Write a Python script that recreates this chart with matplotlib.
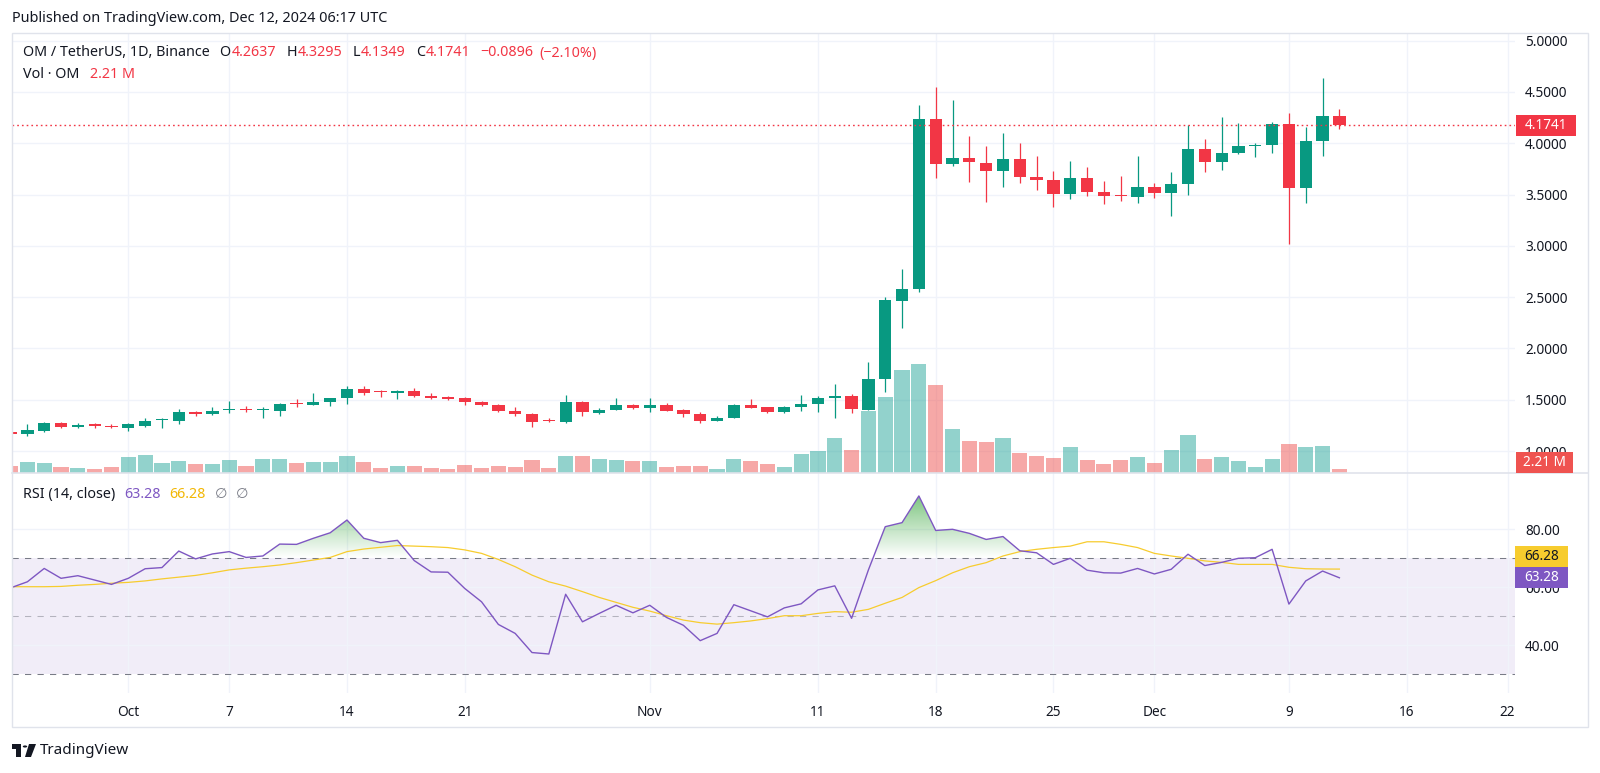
#!/usr/bin/env python3

import matplotlib

matplotlib.use("Agg")

import matplotlib.pyplot as plt
import numpy as np
import pandas as pd
from matplotlib.lines import Line2D
from matplotlib.patches import Circle, Polygon, Rectangle
from matplotlib.path import Path as MplPath
from matplotlib.ticker import FormatStrFormatter

plt.rcParams["font.family"] = ["Noto Sans", "DejaVu Sans"]

WIDTH_PX = 1600
HEIGHT_PX = 773
DPI = 100

UP_COLOR = "#089981"
DOWN_COLOR = "#f23645"
VOL_UP_COLOR = "#26a69a"
VOL_DOWN_COLOR = "#ef5350"
TEXT_COLOR = "#131722"
GRID_COLOR = "#f0f3fa"
BORDER_COLOR = "#e0e3eb"
RSI_COLOR = "#7e57c2"
RSI_MA_COLOR = "#f7cc2e"
BAND_COLOR = "#787b86"
FONT_SIZE = 9.8
LEGEND_SIZE = 10.3

# pane geometry in pixels (from top-left)
FRAME_LEFT = 12.3
FRAME_RIGHT = 1588
FRAME_TOP = 33
FRAME_BOTTOM = 727
PLOT_RIGHT = 1515
PANE_SPLIT = 473.3
RSI_BOTTOM = 693

X_LIMITS = (0.103, 89.44)
PRICE_LIMITS = (0.7836, 5.075)
RSI_LIMITS = (23.55, 99.31)
VOLUME_TOP = 243.3

dates = pd.date_range("2024-09-24", "2024-12-12", freq="D")

opens = [
    1.189, 1.163, 1.199, 1.271, 1.232, 1.261, 1.248, 1.228, 1.245, 1.302,
    1.297, 1.378, 1.358, 1.404, 1.410, 1.398, 1.391, 1.462, 1.446, 1.479,
    1.514, 1.605, 1.580, 1.566, 1.586, 1.540, 1.524, 1.514, 1.482, 1.449,
    1.394, 1.362, 1.293, 1.280, 1.482, 1.368, 1.400, 1.449, 1.417, 1.449,
    1.400, 1.358, 1.297, 1.319, 1.449, 1.426, 1.384, 1.426, 1.456, 1.521,
    1.540, 1.400, 1.700, 2.466, 2.577, 4.237, 3.798, 3.860, 3.811, 3.733,
    3.844, 3.675, 3.642, 3.506, 3.659, 3.522, 3.497, 3.480, 3.571, 3.512,
    3.600, 3.941, 3.818, 3.902, 3.975, 3.984, 4.185, 3.561, 4.022, 4.2637,
]
highs = [
    1.195, 1.261, 1.287, 1.280, 1.271, 1.271, 1.264, 1.277, 1.326, 1.326,
    1.407, 1.394, 1.427, 1.488, 1.443, 1.433, 1.466, 1.508, 1.563, 1.514,
    1.638, 1.631, 1.596, 1.596, 1.612, 1.563, 1.534, 1.530, 1.491, 1.456,
    1.433, 1.368, 1.326, 1.547, 1.488, 1.417, 1.514, 1.459, 1.514, 1.466,
    1.410, 1.378, 1.342, 1.456, 1.508, 1.433, 1.440, 1.547, 1.537, 1.651,
    1.557, 1.865, 2.505, 2.772, 4.373, 4.546, 4.422, 4.071, 3.974, 4.097,
    4.006, 3.876, 3.733, 3.828, 3.772, 3.636, 3.681, 3.876, 3.610, 3.717,
    4.178, 4.042, 4.253, 4.201, 3.999, 4.204, 4.299, 4.156, 4.640, 4.3295,
]
lows = [
    1.165, 1.147, 1.189, 1.228, 1.222, 1.222, 1.222, 1.199, 1.238, 1.228,
    1.264, 1.345, 1.352, 1.374, 1.384, 1.319, 1.342, 1.430, 1.446, 1.440,
    1.462, 1.547, 1.524, 1.505, 1.530, 1.508, 1.495, 1.449, 1.440, 1.378,
    1.342, 1.238, 1.281, 1.277, 1.345, 1.362, 1.400, 1.407, 1.384, 1.394,
    1.329, 1.270, 1.293, 1.319, 1.417, 1.374, 1.374, 1.394, 1.384, 1.326,
    1.375, 1.400, 1.573, 2.203, 2.554, 3.665, 3.779, 3.626, 3.431, 3.577,
    3.610, 3.545, 3.382, 3.460, 3.490, 3.405, 3.441, 3.415, 3.464, 3.291,
    3.496, 3.724, 3.740, 3.896, 3.870, 3.909, 3.019, 3.421, 3.876, 4.1349,
]
closes = [
    1.167, 1.206, 1.271, 1.232, 1.254, 1.245, 1.232, 1.261, 1.293, 1.310,
    1.378, 1.358, 1.391, 1.410, 1.404, 1.402, 1.456, 1.455, 1.479, 1.514,
    1.605, 1.570, 1.577, 1.589, 1.540, 1.514, 1.508, 1.482, 1.449, 1.391,
    1.358, 1.287, 1.290, 1.482, 1.378, 1.400, 1.449, 1.417, 1.449, 1.394,
    1.361, 1.293, 1.319, 1.449, 1.423, 1.384, 1.426, 1.456, 1.521, 1.540,
    1.407, 1.700, 2.473, 2.580, 4.237, 3.798, 3.860, 3.815, 3.733, 3.844,
    3.668, 3.642, 3.506, 3.659, 3.522, 3.486, 3.490, 3.571, 3.512, 3.600,
    3.941, 3.821, 3.902, 3.977, 3.985, 4.185, 3.561, 4.022, 4.2637, 4.1741,
]
volumes_m = [
    3.9, 6.1, 5.7, 3.5, 2.8, 2.2, 3.5, 8.8, 9.9, 5.7,
    6.8, 5.4, 5.0, 7.2, 3.9, 7.7, 7.9, 5.7, 6.1, 6.1,
    9.8, 6.2, 3.1, 3.9, 3.9, 2.9, 2.4, 4.4, 2.8, 3.9,
    3.5, 7.6, 3.1, 9.6, 9.8, 7.9, 7.6, 7.0, 7.0, 3.5,
    3.9, 4.3, 2.6, 7.9, 6.8, 5.0, 3.5, 10.9, 12.2, 19.3,
    13.1, 34.3, 42.4, 56.9, 60.6, 48.6, 24.7, 17.7, 17.3, 19.5,
    11.2, 9.4, 8.5, 14.5, 7.2, 5.4, 7.2, 8.8, 5.7, 12.7,
    21.4, 8.1, 8.8, 6.8, 3.5, 7.9, 16.4, 14.5, 15.3, 2.21,
]
rsi = [
    59.8, 61.9, 66.5, 63.1, 64.0, 62.5, 61.0, 63.1, 66.4, 66.8,
    72.5, 69.8, 71.5, 72.3, 70.3, 70.8, 74.9, 74.8, 76.9, 78.8,
    83.2, 76.9, 75.4, 76.2, 69.2, 65.3, 65.2, 59.6, 55.0, 47.2,
    44.1, 37.5, 37.0, 57.6, 48.1, 51.0, 53.8, 51.2, 53.8, 49.6,
    46.9, 41.6, 44.1, 54.0, 51.9, 49.8, 52.9, 54.3, 59.1, 60.5,
    49.3, 66.0, 80.9, 82.3, 91.5, 79.6, 80.0, 78.6, 76.5, 77.5,
    72.6, 71.9, 67.9, 70.0, 65.9, 65.0, 64.9, 66.5, 64.6, 66.2,
    71.4, 67.5, 68.6, 70.0, 70.2, 73.1, 54.2, 62.2, 65.6, 63.28,
]
rsi_ma = [
    60.2, 60.2, 60.2, 60.3, 60.7, 61.0, 61.4, 61.7, 62.2, 62.9,
    63.5, 64.1, 65.0, 66.0, 66.6, 67.1, 67.7, 68.5, 69.4, 70.3,
    72.3, 73.2, 73.8, 74.4, 74.2, 74.0, 73.7, 72.9, 71.7, 69.6,
    67.1, 64.2, 61.9, 60.4, 58.5, 56.5, 54.8, 53.1, 51.8, 50.2,
    48.7, 47.8, 47.3, 47.8, 48.4, 49.2, 50.2, 50.2, 51.0, 51.6,
    51.4, 52.4, 54.5, 56.5, 59.9, 62.3, 65.0, 67.1, 68.5, 70.8,
    72.3, 73.1, 73.7, 74.2, 75.7, 75.7, 74.8, 73.7, 71.7, 70.8,
    70.0, 69.1, 68.6, 67.9, 67.9, 67.9, 66.9, 66.4, 66.3, 66.28,
]

tick_dates = [
    "2024-10-01", "2024-10-07", "2024-10-14", "2024-10-21", "2024-11-01",
    "2024-11-11", "2024-11-18", "2024-11-25", "2024-12-01", "2024-12-09",
    "2024-12-16", "2024-12-22",
]
tick_labels = ["Oct", "7", "14", "21", "Nov", "11", "18", "25", "Dec", "9", "16", "22"]
price_ticks = [1.0, 1.5, 2.0, 2.5, 3.0, 3.5, 4.0, 4.5, 5.0]
rsi_ticks = [40, 60, 80]


def fig_rect(left, top, right, bottom):
    return [left / WIDTH_PX, 1 - bottom / HEIGHT_PX,
            (right - left) / WIDTH_PX, (bottom - top) / HEIGHT_PX]


def fy(y_px):
    return 1 - y_px / HEIGHT_PX


def value_to_px(ax, value):
    return HEIGHT_PX - ax.transData.transform((0, value))[1]


def value_box(fig, center_px, left_px, width_px, text, face, text_color):
    box_h = 21
    fig.add_artist(Rectangle((left_px / WIDTH_PX, fy(center_px + box_h / 2)),
                             width_px / WIDTH_PX, box_h / HEIGHT_PX,
                             transform=fig.transFigure, facecolor=face,
                             edgecolor="none", zorder=20))
    fig.text((left_px + width_px / 2) / WIDTH_PX, fy(center_px), text,
             color=text_color, fontsize=FONT_SIZE, ha="center", va="center",
             zorder=21)


def draw_runs(fig, renderer, x_px, y_px, runs):
    x = x_px
    for text, color, gap in runs:
        t = fig.text(x / WIDTH_PX, fy(y_px), text, color=color,
                     fontsize=LEGEND_SIZE, ha="left", va="center")
        x += t.get_window_extent(renderer=renderer).width + gap


def style_axes(ax):
    for spine in ax.spines.values():
        spine.set_visible(False)
    ax.set_xlim(*X_LIMITS)


def right_scale(ax, ticks, fmt):
    ax.set_yticks(ticks)
    ax.yaxis.tick_right()
    ax.yaxis.set_major_formatter(FormatStrFormatter(fmt))
    ax.tick_params(axis="y", length=0, pad=7.2, labelsize=FONT_SIZE,
                   labelcolor=TEXT_COLOR)


def main():
    o = np.array(opens)
    h = np.array(highs)
    l = np.array(lows)
    c = np.array(closes)
    vol = np.array(volumes_m)
    rsi_arr = np.array(rsi)
    ma_arr = np.array(rsi_ma)
    x = np.arange(len(dates))
    up = c >= o
    tick_pos = [(pd.Timestamp(d) - dates[0]).days for d in tick_dates]

    fig = plt.figure(figsize=(WIDTH_PX / DPI, HEIGHT_PX / DPI), dpi=DPI)
    fig.patch.set_facecolor("white")

    # ---- price pane ----
    ax = fig.add_axes(fig_rect(FRAME_LEFT, FRAME_TOP, PLOT_RIGHT, PANE_SPLIT))
    ax_vol = ax.twinx()
    style_axes(ax)
    style_axes(ax_vol)
    ax.set_ylim(*PRICE_LIMITS)
    ax.set_xticks(tick_pos)
    ax.grid(True, color=GRID_COLOR, linewidth=1.0, zorder=0)
    ax.set_axisbelow(True)
    ax.tick_params(axis="x", length=0, labelbottom=False)
    right_scale(ax, price_ticks, "%.4f")

    candle_colors = np.where(up, UP_COLOR, DOWN_COLOR)
    ax.vlines(x, l, h, colors=candle_colors, linewidth=0.9, zorder=3)
    body_bottom = np.minimum(o, c)
    body_height = np.maximum(np.abs(c - o), 0.01)
    ax.bar(x, body_height, bottom=body_bottom, width=0.73,
           color=candle_colors, linewidth=0, zorder=4)
    ax.axhline(closes[-1], color=DOWN_COLOR, linewidth=1.0,
               linestyle=(0, (1.2, 2.2)), zorder=5)

    # ---- volume overlay ----
    ax_vol.set_ylim(0, VOLUME_TOP)
    ax_vol.set_yticks([])
    ax_vol.tick_params(axis="x", length=0, labelbottom=False)
    ax_vol.patch.set_visible(False)
    vol_colors = np.where(up, VOL_UP_COLOR, VOL_DOWN_COLOR)
    ax_vol.bar(x, vol, width=0.9, color=vol_colors, alpha=0.5, linewidth=0)

    # ---- RSI pane ----
    ax_rsi = fig.add_axes(fig_rect(FRAME_LEFT, PANE_SPLIT, PLOT_RIGHT, RSI_BOTTOM))
    style_axes(ax_rsi)
    ax_rsi.axhspan(30, 70, color=RSI_COLOR, alpha=0.1, linewidth=0, zorder=0.5)
    fill = ax_rsi.fill_between(x, rsi_arr, 70, where=rsi_arr > 70,
                               interpolate=True, facecolor="none",
                               edgecolor="none")
    grad = np.zeros((256, 1, 4))
    grad[..., :3] = matplotlib.colors.to_rgb("#4caf50")
    grad[:, 0, 3] = np.linspace(1.0, 0.0, 256)
    im = ax_rsi.imshow(grad, extent=(x[0], x[-1], 70, 100), aspect="auto",
                       origin="upper", zorder=1, interpolation="bilinear")
    clip = MplPath.make_compound_path(*fill.get_paths())
    im.set_clip_path(clip, transform=ax_rsi.transData)

    ax_rsi.axhline(70, color=BAND_COLOR, linewidth=0.75, linestyle=(0, (6, 6)), zorder=2)
    ax_rsi.axhline(50, color=BAND_COLOR, alpha=0.5, linewidth=0.75,
                   linestyle=(0, (6, 6)), zorder=2)
    ax_rsi.axhline(30, color=BAND_COLOR, linewidth=0.75, linestyle=(0, (6, 6)), zorder=2)
    ax_rsi.plot(x, ma_arr, color=RSI_MA_COLOR, linewidth=0.9, zorder=3)
    ax_rsi.plot(x, rsi_arr, color=RSI_COLOR, linewidth=1.0, zorder=4)

    ax_rsi.set_xlim(*X_LIMITS)
    ax_rsi.set_ylim(*RSI_LIMITS)
    ax_rsi.set_xticks(tick_pos)
    ax_rsi.set_xticklabels(tick_labels)
    ax_rsi.grid(True, color=GRID_COLOR, linewidth=1.0, zorder=0)
    ax_rsi.set_axisbelow(True)
    right_scale(ax_rsi, rsi_ticks, "%.2f")
    ax_rsi.tick_params(axis="x", length=0, pad=8.6, labelsize=FONT_SIZE,
                       labelcolor=TEXT_COLOR)

    # ---- frame and separators ----
    fig.add_artist(Rectangle((FRAME_LEFT / WIDTH_PX, fy(FRAME_BOTTOM)),
                             (FRAME_RIGHT - FRAME_LEFT) / WIDTH_PX,
                             (FRAME_BOTTOM - FRAME_TOP) / HEIGHT_PX,
                             transform=fig.transFigure, fill=False,
                             edgecolor=BORDER_COLOR, linewidth=1.0))
    fig.add_artist(Line2D([FRAME_LEFT / WIDTH_PX, FRAME_RIGHT / WIDTH_PX],
                          [fy(PANE_SPLIT), fy(PANE_SPLIT)],
                          transform=fig.transFigure, color=BORDER_COLOR,
                          linewidth=1.2))

    # ---- last value boxes on the scales ----
    value_box(fig, value_to_px(ax, closes[-1]), 1516, 60,
              f"{closes[-1]:.4f}", DOWN_COLOR, "white")
    vol_center = min(value_to_px(ax_vol, volumes_m[-1]), PANE_SPLIT - 11)
    value_box(fig, vol_center, 1516, 57, f"{volumes_m[-1]:.2f} M",
              VOL_DOWN_COLOR, "white")
    rsi_center = value_to_px(ax_rsi, rsi[-1])
    ma_center = min(value_to_px(ax_rsi, rsi_ma[-1]), rsi_center - 21)
    value_box(fig, ma_center, 1515, 53, f"{rsi_ma[-1]:.2f}", RSI_MA_COLOR, TEXT_COLOR)
    value_box(fig, rsi_center, 1515, 53, f"{rsi[-1]:.2f}", RSI_COLOR, "white")

    # ---- texts ----
    renderer = fig.canvas.get_renderer()
    fig.text(12 / WIDTH_PX, fy(18.4), "Published on TradingView.com, Dec 12, 2024 06:17 UTC",
             color=TEXT_COLOR, fontsize=10.4, ha="left", va="center")
    change = closes[-1] - opens[-1]
    change_pct = change / opens[-1] * 100
    draw_runs(fig, renderer, 22.7, 53, [
        ("OM / TetherUS, 1D, Binance", TEXT_COLOR, 10),
        ("O", TEXT_COLOR, 1), (f"{opens[-1]:.4f}", DOWN_COLOR, 10),
        ("H", TEXT_COLOR, 1), (f"{highs[-1]:.4f}", DOWN_COLOR, 10),
        ("L", TEXT_COLOR, 1), (f"{lows[-1]:.4f}", DOWN_COLOR, 10),
        ("C", TEXT_COLOR, 1), (f"{closes[-1]:.4f}", DOWN_COLOR, 10),
        (f"\u2212{abs(change):.4f}", DOWN_COLOR, 6),
        (f"(\u2212{abs(change_pct):.2f}%)", DOWN_COLOR, 0),
    ])
    draw_runs(fig, renderer, 22.7, 75, [
        ("Vol \u00b7 OM", TEXT_COLOR, 11),
        (f"{volumes_m[-1]:.2f} M", DOWN_COLOR, 0),
    ])
    draw_runs(fig, renderer, 22.7, 494.3, [
        ("RSI (14, close)", TEXT_COLOR, 9),
        (f"{rsi[-1]:.2f}", RSI_COLOR, 9),
        (f"{rsi_ma[-1]:.2f}", "#f2b705", 9),
        ("\u2205", BAND_COLOR, 9),
        ("\u2205", BAND_COLOR, 0),
    ])

    # ---- TradingView logo ----
    logo = [
        Rectangle((12 / WIDTH_PX, fy(749)), 9 / WIDTH_PX, 5 / HEIGHT_PX),
        Rectangle((16 / WIDTH_PX, fy(757)), 5 / WIDTH_PX, 13 / HEIGHT_PX),
        Polygon([(29 / WIDTH_PX, fy(744)), (36 / WIDTH_PX, fy(744)),
                 (31 / WIDTH_PX, fy(757)), (25 / WIDTH_PX, fy(757))]),
    ]
    for patch in logo:
        patch.set_transform(fig.transFigure)
        patch.set_facecolor(TEXT_COLOR)
        patch.set_edgecolor("none")
        fig.add_artist(patch)
    dot = Circle((25 / WIDTH_PX, fy(746.5)), 2.2 / WIDTH_PX, transform=fig.transFigure,
                 facecolor=TEXT_COLOR, edgecolor="none")
    fig.add_artist(dot)
    fig.text(40 / WIDTH_PX, fy(751), "TradingView", color=TEXT_COLOR,
             fontsize=11, fontweight="semibold", ha="left", va="center")

    fig.savefig("out.png", dpi=DPI, facecolor="white")
    plt.close(fig)


if __name__ == "__main__":
    main()
